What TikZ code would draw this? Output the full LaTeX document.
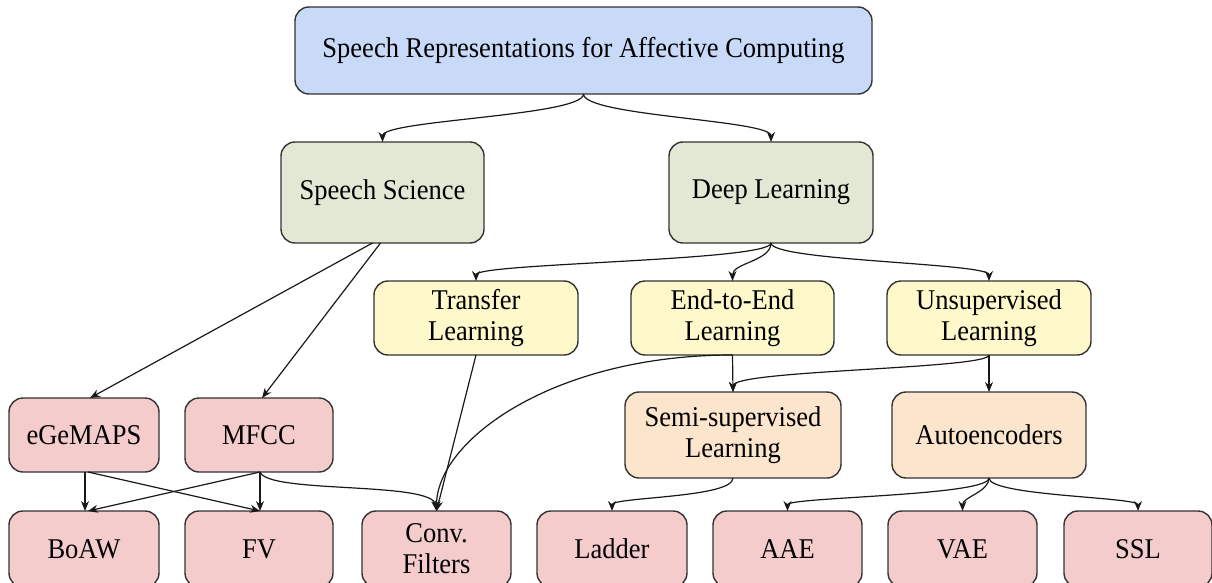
\documentclass[tikz,border=0pt]{standalone}
\usepackage{fontspec}
\setmainfont{Liberation Serif}
\usetikzlibrary{arrows.meta}
\definecolor{cblue}{HTML}{C9DAF8}
\definecolor{cgreen}{HTML}{E3E8D4}
\definecolor{cyellow}{HTML}{FEF8CB}
\definecolor{cpeach}{HTML}{FCE5CD}
\definecolor{cpink}{HTML}{F4CCCC}
\definecolor{cline}{HTML}{333333}
\newcommand\stl[1]{\scalebox{1}[1.08]{#1}}
\begin{document}
\begin{tikzpicture}[x=1pt,y=-1pt,
  box/.style={draw=cline, line width=1.4pt, rounded corners=14pt, inner sep=0pt, outer sep=0pt,
    align=center, font=\fontsize{26.5}{31}\selectfont},
  conn/.style={draw=black!90, line width=1.2pt, -{Stealth[length=10pt,width=8pt]}}]
\useasboundingbox (0,0) rectangle (1212,583);
% nodes
\node[box, fill=cblue, minimum width=577pt, minimum height=87pt] (root) at (583.5,50.5) {\stl{Speech Representations for Affective Computing}};
\node[box, fill=cgreen, minimum width=203pt, minimum height=101pt] (ss) at (382.5,192.5) {\stl{Speech Science}};
\node[box, fill=cgreen, minimum width=204pt, minimum height=101pt] (dl) at (771,192.5) {\stl{Deep Learning}};
\node[box, fill=cyellow, minimum width=204pt, minimum height=74pt] (tl) at (476,318) {\stl{Transfer}\\\stl{Learning}};
\node[box, fill=cyellow, minimum width=203pt, minimum height=74pt] (e2e) at (732.5,318) {\stl{End-to-End}\\\stl{Learning}};
\node[box, fill=cyellow, minimum width=204pt, minimum height=74pt] (ul) at (989,318) {\stl{Unsupervised}\\\stl{Learning}};
\node[box, fill=cpink, minimum width=150pt, minimum height=74pt] (eg) at (84,435) {\stl{eGeMAPS}};
\node[box, fill=cpink, minimum width=148pt, minimum height=74pt] (mf) at (259,435) {\stl{MFCC}};
\node[box, fill=cpeach, minimum width=216pt, minimum height=86pt] (semi) at (733,435) {\stl{Semi-supervised}\\\stl{Learning}};
\node[box, fill=cpeach, minimum width=194pt, minimum height=86pt] (ae) at (989,435) {\stl{Autoencoders}};
\node[box, fill=cpink, minimum width=150pt, minimum height=76pt] (boaw) at (84,549) {\stl{BoAW}};
\node[box, fill=cpink, minimum width=148pt, minimum height=76pt] (fv) at (259,549) {\stl{FV}};
\node[box, fill=cpink, minimum width=149pt, minimum height=76pt] (conv) at (436.5,549) {\stl{Conv.}\\\stl{Filters}};
\node[box, fill=cpink, minimum width=150pt, minimum height=76pt] (lad) at (612,549) {\stl{Ladder}};
\node[box, fill=cpink, minimum width=149pt, minimum height=76pt] (aae) at (787.5,549) {\stl{AAE}};
\node[box, fill=cpink, minimum width=149pt, minimum height=76pt] (vae) at (962.5,549) {\stl{VAE}};
\node[box, fill=cpink, minimum width=148pt, minimum height=76pt] (ssl) at (1138,549) {\stl{SSL}};
% connectors
\draw[conn] (root.south) .. controls +(0,22) and +(0,-22) .. (ss.north);
\draw[conn] (root.south) .. controls +(0,22) and +(0,-22) .. (dl.north);
\draw[conn] ([xshift=-10pt]ss.south) -- ([xshift=6pt]eg.north);
\draw[conn] ([xshift=-2pt]ss.south) -- ([xshift=3pt]mf.north);
\draw[conn] (dl.south) .. controls +(0,18) and +(0,-18) .. (tl.north);
\draw[conn] (dl.south) .. controls +(0,18) and +(0,-18) .. (e2e.north);
\draw[conn] (dl.south) .. controls +(0,18) and +(0,-18) .. (ul.north);
\draw[conn] (tl.south) -- (conv.north);
\draw[conn] (e2e.south) .. controls +(-180,0) and +(0,-70) .. (conv.north);
\draw[conn] (e2e.south) -- (semi.north);
\draw[conn] (ul.south) .. controls +(0,14) and +(0,-22) .. (semi.north);
\draw[conn] (ul.south) -- (ae.north);
\draw[conn] ([xshift=1pt]eg.south) -- ([xshift=1pt]boaw.north);
\draw[conn] ([xshift=4pt]eg.south) -- ([xshift=1pt]fv.north);
\draw[conn] ([xshift=1pt]mf.south) -- ([xshift=4pt]boaw.north);
\draw[conn] ([xshift=1pt]mf.south) -- ([xshift=1pt]fv.north);
\draw[conn] ([xshift=1pt]mf.south) .. controls +(8,22) and +(-4,-30) .. (conv.north);
\draw[conn] (semi.south) .. controls +(0,20) and +(0,-14) .. (lad.north);
\draw[conn] (ae.south) .. controls +(0,18) and +(0,-14) .. (aae.north);
\draw[conn] (ae.south) .. controls +(0,14) and +(0,-14) .. (vae.north);
\draw[conn] (ae.south) .. controls +(0,18) and +(0,-14) .. (ssl.north);
\end{tikzpicture}
\end{document}
